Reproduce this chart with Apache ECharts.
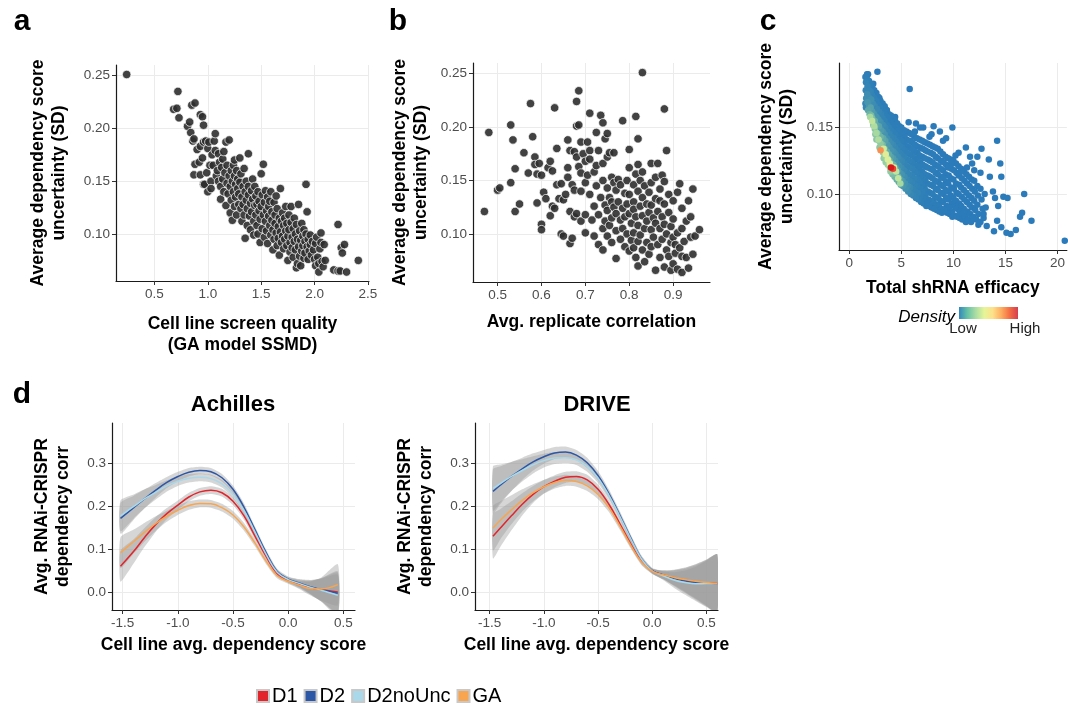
<!DOCTYPE html>
<html><head><meta charset="utf-8">
<script src="https://cdn.jsdelivr.net/npm/echarts@6/dist/echarts.min.js"></script>
<style>html,body{margin:0;padding:0;background:#fff}#c{width:1068px;height:706px}</style>
</head><body><div id="c"></div>
<script>
// ---------- Panel a: [GA model SSMD, avg dependency score SD]
const panelA = [[0.24,0.251],[0.68,0.218],[0.71,0.219],[0.72,0.235],[0.73,0.210],[0.81,0.202],[0.83,0.206],[0.84,0.196],[0.85,0.222],[0.86,0.188],[0.88,0.224],[0.87,0.190],[0.88,0.166],[0.87,0.156],[0.90,0.180],[0.92,0.168],[0.93,0.213],[0.93,0.183],[0.93,0.156],[0.95,0.211],[0.95,0.172],[0.96,0.203],[0.96,0.187],[0.96,0.147],[0.97,0.147],[0.98,0.188],[0.99,0.158],[1.00,0.140],[1.00,0.181],[1.01,0.187],[1.02,0.165],[1.03,0.150],[1.03,0.143],[1.04,0.175],[1.05,0.165],[1.06,0.188],[1.07,0.195],[1.07,0.179],[1.08,0.155],[1.09,0.160],[1.10,0.176],[1.10,0.150],[1.11,0.168],[1.12,0.133],[1.12,0.145],[1.13,0.163],[1.14,0.152],[1.14,0.171],[1.15,0.178],[1.15,0.140],[1.16,0.158],[1.17,0.187],[1.17,0.127],[1.18,0.148],[1.18,0.165],[1.19,0.138],[1.20,0.189],[1.20,0.155],[1.21,0.120],[1.21,0.145],[1.22,0.160],[1.22,0.132],[1.23,0.150],[1.23,0.113],[1.24,0.140],[1.24,0.165],[1.25,0.126],[1.25,0.155],[1.25,0.170],[1.26,0.147],[1.26,0.135],[1.27,0.160],[1.27,0.118],[1.28,0.143],[1.28,0.152],[1.29,0.128],[1.29,0.138],[1.30,0.172],[1.30,0.149],[1.31,0.124],[1.31,0.157],[1.32,0.135],[1.32,0.112],[1.33,0.145],[1.33,0.128],[1.34,0.162],[1.34,0.118],[1.35,0.140],[1.35,0.096],[1.36,0.132],[1.36,0.150],[1.37,0.108],[1.37,0.124],[1.38,0.176],[1.38,0.145],[1.38,0.137],[1.39,0.117],[1.40,0.129],[1.40,0.104],[1.41,0.141],[1.41,0.121],[1.42,0.152],[1.42,0.133],[1.43,0.112],[1.43,0.099],[1.44,0.127],[1.44,0.145],[1.45,0.136],[1.45,0.118],[1.46,0.108],[1.46,0.128],[1.47,0.140],[1.47,0.100],[1.48,0.122],[1.48,0.131],[1.49,0.114],[1.49,0.092],[1.50,0.157],[1.50,0.126],[1.51,0.105],[1.51,0.137],[1.52,0.166],[1.52,0.118],[1.53,0.097],[1.53,0.130],[1.54,0.112],[1.54,0.141],[1.55,0.122],[1.55,0.103],[1.56,0.135],[1.56,0.091],[1.57,0.117],[1.57,0.126],[1.58,0.108],[1.58,0.131],[1.59,0.099],[1.59,0.140],[1.60,0.113],[1.60,0.121],[1.61,0.085],[1.61,0.104],[1.62,0.130],[1.62,0.095],[1.63,0.118],[1.63,0.110],[1.64,0.101],[1.64,0.136],[1.65,0.089],[1.65,0.124],[1.66,0.107],[1.66,0.096],[1.67,0.115],[1.67,0.080],[1.68,0.143],[1.68,0.102],[1.69,0.112],[1.69,0.092],[1.70,0.120],[1.70,0.098],[1.71,0.086],[1.71,0.108],[1.72,0.115],[1.72,0.095],[1.73,0.103],[1.73,0.126],[1.74,0.089],[1.74,0.110],[1.75,0.098],[1.75,0.075],[1.76,0.118],[1.76,0.104],[1.77,0.092],[1.77,0.083],[1.78,0.111],[1.78,0.126],[1.79,0.097],[1.79,0.087],[1.80,0.105],[1.80,0.078],[1.81,0.115],[1.81,0.093],[1.82,0.100],[1.82,0.085],[1.83,0.068],[1.83,0.109],[1.84,0.072],[1.84,0.095],[1.85,0.128],[1.85,0.088],[1.86,0.103],[1.86,0.079],[1.87,0.094],[1.87,0.070],[1.88,0.110],[1.88,0.084],[1.89,0.098],[1.89,0.089],[1.90,0.077],[1.90,0.104],[1.91,0.093],[1.91,0.082],[1.92,0.147],[1.92,0.100],[1.93,0.088],[1.93,0.121],[1.94,0.095],[1.94,0.076],[1.95,0.084],[1.96,0.099],[1.96,0.090],[1.97,0.080],[1.98,0.093],[1.99,0.085],[2.00,0.076],[2.01,0.070],[2.01,0.091],[2.02,0.097],[2.03,0.078],[2.04,0.072],[2.04,0.064],[2.05,0.086],[2.06,0.101],[2.06,0.092],[2.07,0.074],[2.08,0.069],[2.09,0.090],[2.10,0.075],[2.18,0.066],[2.22,0.065],[2.22,0.109],[2.24,0.065],[2.25,0.087],[2.26,0.082],[2.28,0.090],[2.30,0.064],[2.41,0.075]];

// ---------- Panel b: [avg replicate correlation, avg dependency score SD]
const panelB = [[0.47,0.121],[0.48,0.195],[0.50,0.141],[0.505,0.143],[0.53,0.148],[0.53,0.202],[0.535,0.188],[0.54,0.121],[0.54,0.161],[0.55,0.128],[0.56,0.176],[0.575,0.222],[0.57,0.157],[0.58,0.191],[0.585,0.172],[0.585,0.165],[0.59,0.129],[0.59,0.156],[0.595,0.166],[0.60,0.155],[0.60,0.109],[0.60,0.104],[0.605,0.139],[0.61,0.133],[0.615,0.162],[0.62,0.168],[0.62,0.117],[0.625,0.159],[0.625,0.126],[0.63,0.124],[0.63,0.218],[0.635,0.180],[0.635,0.146],[0.64,0.133],[0.645,0.147],[0.645,0.100],[0.65,0.098],[0.65,0.132],[0.655,0.137],[0.66,0.162],[0.66,0.153],[0.66,0.188],[0.665,0.178],[0.665,0.121],[0.665,0.091],[0.67,0.096],[0.67,0.146],[0.675,0.177],[0.675,0.141],[0.675,0.116],[0.68,0.224],[0.68,0.201],[0.68,0.172],[0.68,0.119],[0.685,0.234],[0.685,0.202],[0.685,0.163],[0.69,0.186],[0.69,0.157],[0.69,0.140],[0.69,0.112],[0.695,0.175],[0.70,0.168],[0.70,0.148],[0.70,0.118],[0.70,0.101],[0.705,0.186],[0.705,0.155],[0.71,0.213],[0.71,0.178],[0.71,0.170],[0.71,0.137],[0.715,0.113],[0.72,0.158],[0.72,0.126],[0.72,0.098],[0.725,0.195],[0.725,0.164],[0.725,0.145],[0.73,0.118],[0.73,0.090],[0.73,0.178],[0.735,0.211],[0.735,0.134],[0.74,0.204],[0.74,0.166],[0.74,0.150],[0.74,0.105],[0.74,0.085],[0.745,0.189],[0.745,0.127],[0.745,0.112],[0.75,0.194],[0.75,0.172],[0.75,0.143],[0.75,0.122],[0.75,0.098],[0.755,0.176],[0.755,0.134],[0.755,0.108],[0.76,0.153],[0.76,0.130],[0.76,0.115],[0.76,0.092],[0.765,0.148],[0.765,0.125],[0.765,0.176],[0.77,0.077],[0.77,0.141],[0.77,0.119],[0.77,0.103],[0.775,0.151],[0.775,0.130],[0.78,0.146],[0.78,0.113],[0.78,0.095],[0.785,0.206],[0.785,0.124],[0.785,0.105],[0.79,0.138],[0.79,0.116],[0.79,0.088],[0.795,0.150],[0.795,0.128],[0.795,0.100],[0.80,0.162],[0.80,0.179],[0.80,0.137],[0.80,0.119],[0.80,0.084],[0.805,0.110],[0.805,0.094],[0.81,0.146],[0.81,0.130],[0.81,0.123],[0.81,0.101],[0.81,0.087],[0.815,0.210],[0.815,0.156],[0.815,0.116],[0.815,0.078],[0.82,0.189],[0.82,0.165],[0.82,0.140],[0.82,0.108],[0.82,0.093],[0.82,0.070],[0.825,0.150],[0.825,0.126],[0.825,0.099],[0.83,0.251],[0.83,0.158],[0.83,0.134],[0.83,0.117],[0.83,0.085],[0.835,0.145],[0.835,0.105],[0.835,0.074],[0.84,0.128],[0.84,0.112],[0.84,0.092],[0.845,0.139],[0.845,0.120],[0.845,0.081],[0.85,0.166],[0.85,0.148],[0.85,0.127],[0.85,0.104],[0.85,0.088],[0.855,0.115],[0.855,0.097],[0.86,0.153],[0.86,0.133],[0.86,0.110],[0.86,0.066],[0.865,0.166],[0.865,0.121],[0.865,0.090],[0.87,0.142],[0.87,0.131],[0.87,0.105],[0.87,0.078],[0.875,0.155],[0.875,0.116],[0.875,0.095],[0.88,0.217],[0.88,0.149],[0.88,0.128],[0.88,0.109],[0.88,0.069],[0.885,0.178],[0.885,0.100],[0.885,0.085],[0.89,0.137],[0.89,0.120],[0.89,0.079],[0.895,0.107],[0.895,0.092],[0.895,0.066],[0.90,0.131],[0.90,0.114],[0.90,0.097],[0.90,0.072],[0.905,0.082],[0.905,0.090],[0.91,0.139],[0.91,0.101],[0.91,0.067],[0.915,0.147],[0.915,0.087],[0.92,0.124],[0.92,0.105],[0.92,0.079],[0.92,0.064],[0.925,0.093],[0.93,0.112],[0.93,0.078],[0.935,0.131],[0.935,0.068],[0.94,0.116],[0.94,0.097],[0.945,0.081],[0.945,0.142],[0.95,0.098],[0.96,0.104]];

// ---------- Panel c: [total shRNA efficacy, avg dependency score SD, relative density]
const panelC = [
[1.55,0.188,0.1],[1.6,0.184,0.15],[1.58,0.178,0.2],[1.62,0.172,0.25],[1.55,0.168,0.2],[1.6,0.165,0.2],[1.7,0.19,0.05],
[1.75,0.186,0.12],[1.75,0.181,0.18],[1.72,0.175,0.25],[1.75,0.169,0.3],[1.8,0.163,0.35],
[1.9,0.185,0.1],[1.9,0.178,0.2],[1.95,0.172,0.25],[1.9,0.166,0.3],[1.95,0.16,0.4],
[2.05,0.183,0.1],[2.05,0.177,0.18],[2.1,0.171,0.26],[2.05,0.165,0.34],[2.1,0.159,0.42],
[2.2,0.18,0.08],[2.2,0.174,0.15],[2.25,0.168,0.24],[2.2,0.162,0.32],[2.2,0.157,0.42],[2.3,0.152,0.45],
[2.4,0.178,0.06],[2.4,0.172,0.14],[2.45,0.166,0.22],[2.4,0.16,0.3],[2.45,0.155,0.38],[2.45,0.149,0.45],[2.5,0.145,0.45],
[2.6,0.176,0.05],[2.6,0.17,0.13],[2.65,0.164,0.22],[2.6,0.158,0.3],[2.6,0.152,0.36],[2.65,0.146,0.44],[2.6,0.141,0.45],
[2.8,0.173,0.05],[2.8,0.167,0.12],[2.85,0.162,0.2],[2.8,0.156,0.28],[2.85,0.151,0.34],[2.8,0.145,0.4],[2.85,0.14,0.46],[2.9,0.135,0.45],
[3.0,0.17,0.05],[3.0,0.165,0.11],[3.05,0.16,0.18],[3.0,0.154,0.26],[3.05,0.148,0.32],[3.0,0.143,0.4],[3.0,0.138,0.46],[3.1,0.133,0.46],
[3.2,0.168,0.05],[3.25,0.163,0.1],[3.2,0.157,0.17],[3.25,0.152,0.24],[3.2,0.147,0.3],[3.25,0.142,0.36],[3.2,0.137,0.42],[3.25,0.131,0.47],[3.3,0.127,0.46],
[3.4,0.166,0.05],[3.45,0.16,0.09],[3.4,0.155,0.16],[3.45,0.15,0.22],[3.4,0.145,0.28],[3.45,0.14,0.34],[3.4,0.134,0.4],[3.45,0.128,0.48],[3.5,0.124,0.47],
[3.6,0.163,0.05],[3.65,0.158,0.09],[3.6,0.152,0.15],[3.65,0.147,0.21],[3.6,0.142,0.27],[3.65,0.137,0.32],[3.6,0.132,0.38],[3.65,0.127,0.45],[3.7,0.122,0.48],
[3.8,0.16,0.05],[3.85,0.155,0.08],[3.8,0.15,0.14],[3.85,0.145,0.2],[3.8,0.14,0.25],[3.85,0.135,0.3],[3.8,0.13,0.36],[3.85,0.125,0.43],[3.9,0.12,0.5],[3.95,0.117,0.46],
[4.0,0.159,0.05],[4.05,0.153,0.08],[4.0,0.148,0.13],[4.05,0.143,0.19],[4.0,0.138,0.24],[4.05,0.133,0.29],[4.0,0.128,0.34],[4.05,0.123,0.4],[4.1,0.118,0.46],[4.15,0.115,0.42],
[4.2,0.157,0.05],[4.25,0.152,0.08],[4.2,0.147,0.12],[4.25,0.142,0.18],[4.2,0.137,0.22],[4.25,0.132,0.27],[4.2,0.127,0.32],[4.25,0.122,0.38],[4.3,0.117,0.44],[4.35,0.113,0.4],
[4.4,0.155,0.05],[4.45,0.15,0.07],[4.4,0.145,0.11],[4.45,0.14,0.16],[4.4,0.135,0.21],[4.45,0.13,0.25],[4.4,0.125,0.3],[4.45,0.12,0.35],[4.5,0.115,0.4],[4.55,0.111,0.38],
[4.6,0.153,0.05],[4.65,0.148,0.07],[4.6,0.143,0.1],[4.65,0.138,0.15],[4.6,0.133,0.2],[4.65,0.128,0.24],[4.6,0.123,0.28],[4.65,0.118,0.33],[4.7,0.113,0.38],[4.75,0.109,0.36],
[4.8,0.151,0.05],[4.85,0.146,0.06],[4.8,0.141,0.1],[4.85,0.136,0.14],[4.8,0.131,0.18],[4.85,0.126,0.22],[4.8,0.121,0.26],[4.85,0.116,0.3],[4.9,0.111,0.34],[4.95,0.107,0.33],
[5.0,0.15,0.05],[5.05,0.145,0.06],[5.0,0.14,0.09],[5.05,0.135,0.13],[5.0,0.13,0.17],[5.05,0.125,0.21],[5.0,0.12,0.24],[5.05,0.115,0.28],[5.1,0.11,0.31],[5.15,0.106,0.3],
[5.25,0.148,0.04],[5.3,0.143,0.05],[5.25,0.138,0.08],[5.3,0.133,0.12],[5.25,0.128,0.15],[5.3,0.123,0.18],[5.25,0.118,0.22],[5.3,0.113,0.25],[5.35,0.108,0.28],[5.4,0.104,0.27],
[5.5,0.147,0.03],[5.5,0.141,0.05],[5.55,0.136,0.08],[5.5,0.131,0.11],[5.55,0.126,0.14],[5.5,0.121,0.17],[5.55,0.116,0.2],[5.5,0.111,0.22],[5.6,0.106,0.25],[5.65,0.102,0.24],
[5.75,0.146,0.03],[5.8,0.14,0.05],[5.75,0.135,0.07],[5.8,0.13,0.1],[5.75,0.125,0.13],[5.8,0.12,0.15],[5.75,0.115,0.18],[5.8,0.11,0.2],[5.85,0.105,0.22],[5.9,0.1,0.21],
[6.0,0.145,0.03],[6.05,0.139,0.04],[6.0,0.134,0.07],[6.05,0.129,0.09],[6.0,0.124,0.12],[6.05,0.119,0.14],[6.0,0.114,0.16],[6.05,0.109,0.18],[6.1,0.104,0.19],[6.15,0.099,0.18],
[6.25,0.143,0.02],[6.3,0.137,0.04],[6.25,0.132,0.06],[6.3,0.127,0.08],[6.25,0.122,0.1],[6.3,0.117,0.13],[6.25,0.112,0.15],[6.3,0.107,0.16],[6.35,0.102,0.17],[6.4,0.097,0.15],
[6.5,0.142,0.02],[6.5,0.136,0.03],[6.55,0.131,0.05],[6.5,0.126,0.07],[6.55,0.121,0.09],[6.5,0.116,0.11],[6.55,0.111,0.13],[6.5,0.106,0.14],[6.6,0.101,0.15],[6.65,0.096,0.13],
[6.75,0.141,0.02],[6.8,0.135,0.03],[6.75,0.129,0.05],[6.8,0.124,0.06],[6.75,0.119,0.08],[6.8,0.114,0.1],[6.75,0.109,0.11],[6.8,0.104,0.12],[6.85,0.099,0.12],[6.9,0.094,0.1],
[7.0,0.14,0.02],[7.05,0.134,0.03],[7.0,0.128,0.04],[7.05,0.122,0.06],[7.0,0.117,0.07],[7.05,0.112,0.09],[7.0,0.107,0.1],[7.05,0.102,0.11],[7.1,0.097,0.1],[7.15,0.093,0.08],
[7.25,0.139,0.01],[7.3,0.133,0.02],[7.25,0.127,0.04],[7.3,0.121,0.05],[7.25,0.115,0.07],[7.3,0.11,0.08],[7.25,0.104,0.09],[7.3,0.099,0.09],[7.35,0.094,0.08],[7.4,0.091,0.06],
[7.5,0.138,0.01],[7.5,0.132,0.02],[7.55,0.126,0.03],[7.5,0.12,0.05],[7.55,0.114,0.06],[7.5,0.108,0.07],[7.55,0.102,0.08],[7.6,0.096,0.08],[7.65,0.091,0.06],
[7.75,0.137,0.01],[7.8,0.131,0.02],[7.75,0.125,0.03],[7.8,0.119,0.04],[7.75,0.113,0.05],[7.8,0.107,0.06],[7.75,0.101,0.07],[7.85,0.095,0.07],[7.9,0.09,0.05],
[8.0,0.136,0.01],[8.05,0.13,0.02],[8.0,0.124,0.03],[8.05,0.118,0.04],[8.0,0.112,0.05],[8.05,0.106,0.05],[8.0,0.1,0.06],[8.1,0.094,0.06],[8.15,0.089,0.05],
[8.25,0.135,0],[8.3,0.128,0.01],[8.25,0.122,0.02],[8.3,0.116,0.03],[8.25,0.11,0.04],[8.3,0.104,0.04],[8.25,0.098,0.05],[8.35,0.092,0.05],[8.4,0.088,0.04],
[8.5,0.134,0],[8.5,0.127,0.01],[8.55,0.121,0.02],[8.5,0.115,0.03],[8.55,0.109,0.03],[8.5,0.103,0.04],[8.55,0.097,0.04],[8.6,0.091,0.04],[8.65,0.087,0.03],
[8.75,0.132,0],[8.8,0.125,0.01],[8.75,0.119,0.02],[8.8,0.113,0.02],[8.75,0.107,0.03],[8.8,0.101,0.03],[8.75,0.095,0.03],[8.85,0.089,0.03],[8.9,0.086,0.02],
[9.0,0.13,0],[9.05,0.124,0.01],[9.0,0.118,0.01],[9.05,0.112,0.02],[9.0,0.106,0.02],[9.05,0.1,0.02],[9.0,0.094,0.02],[9.1,0.088,0.02],
[9.25,0.128,0],[9.3,0.122,0],[9.25,0.115,0.01],[9.3,0.109,0.01],[9.25,0.103,0.02],[9.3,0.097,0.02],[9.35,0.091,0.01],[9.4,0.086,0.01],
[9.5,0.127,0],[9.5,0.12,0],[9.55,0.114,0.01],[9.5,0.108,0.01],[9.55,0.102,0.01],[9.5,0.096,0.01],[9.6,0.09,0.01],[9.65,0.085,0],
[9.75,0.126,0],[9.8,0.119,0],[9.75,0.112,0],[9.8,0.105,0.01],[9.75,0.099,0.01],[9.85,0.093,0],[9.85,0.087,0],[9.9,0.083,0],
[10.0,0.125,0],[10.05,0.118,0],[10.0,0.111,0],[10.05,0.104,0],[10.0,0.097,0],[10.1,0.091,0],[10.1,0.084,0],
[10.25,0.123,0],[10.3,0.116,0],[10.25,0.108,0],[10.3,0.101,0],[10.25,0.095,0],[10.35,0.089,0],[10.35,0.083,0],
[10.5,0.121,0],[10.5,0.114,0],[10.55,0.107,0],[10.5,0.1,0],[10.55,0.093,0],[10.6,0.087,0],[10.6,0.082,0],
[10.75,0.119,0],[10.8,0.112,0],[10.75,0.105,0],[10.8,0.098,0],[10.75,0.091,0],[10.85,0.085,0],[10.85,0.081,0],
[11.0,0.117,0],[11.05,0.11,0],[11.0,0.103,0],[11.05,0.096,0],[11.0,0.089,0],[11.1,0.083,0],[11.2,0.079,0],
[11.25,0.115,0],[11.3,0.108,0],[11.25,0.101,0],[11.3,0.094,0],[11.35,0.087,0],[11.4,0.081,0],
[11.5,0.113,0],[11.55,0.106,0],[11.5,0.099,0],[11.55,0.092,0],[11.6,0.085,0],[11.7,0.079,0],
[11.75,0.111,0],[11.8,0.104,0],[11.75,0.097,0],[11.8,0.09,0],[11.9,0.083,0],
[12.0,0.11,0],[12.05,0.102,0],[12.0,0.095,0],[12.1,0.088,0],[12.2,0.081,0],[12.4,0.077,0],
[12.3,0.106,0],[12.35,0.099,0],[12.3,0.092,0],[12.4,0.085,0],[12.6,0.079,0],
[12.6,0.104,0],[12.7,0.096,0],[12.8,0.089,0],[12.9,0.082,0],[13.2,0.076,0],[13.0,0.1,0],
[2.7,0.192,0],[5.8,0.179,0],[5.7,0.154,0],[7.1,0.15,0],[8.1,0.151,0],[8.7,0.147,0],[9.3,0.142,0],[9.9,0.15,0],[11.2,0.135,0],[12.7,0.134,0],[14.2,0.14,0],[12.3,0.128,0],[13.4,0.126,0],[10.5,0.131,0],[11.8,0.123,0],[14.5,0.123,0],[14.6,0.113,0],[13.5,0.113,0],[12.6,0.116,0],[13.8,0.102,0],[14.0,0.097,0],[14.3,0.091,0],[14.8,0.098,0],[15.2,0.097,0],[16.8,0.1,0],[16.6,0.086,0],[16.4,0.083,0],[17.5,0.08,0],[14.2,0.08,0],[13.9,0.072,0],[14.6,0.075,0],[15.1,0.071,0],[15.5,0.07,0],[16.0,0.073,0],[20.7,0.065,0],[13.1,0.09,0],[12.9,0.085,0],[11.3,0.12,0],[10.6,0.116,0],[9.8,0.123,0],[9.0,0.14,0],[7.9,0.145,0],[6.8,0.15,0],[6.3,0.147,0],[6.4,0.153,0],[7.7,0.143,0],[4.4,0.158,0],[3.6,0.163,0],[2.9,0.172,0],[2.3,0.183,0],[1.8,0.19,0],[10.2,0.129,0],[12.0,0.118,0],[11.6,0.128,0],
[2.0,0.158,0.5],[2.2,0.155,0.55],[2.4,0.151,0.52],[2.6,0.146,0.5],[2.8,0.141,0.52],[3.3,0.134,0.58],[3.5,0.13,0.62],[3.7,0.126,0.6],[3.9,0.123,0.62],[4.3,0.12,0.6],[4.5,0.117,0.55],[4.7,0.112,0.55],[4.9,0.108,0.5],
[3.0,0.133,0.85],[4.0,0.12,1.0],[4.2,0.119,0.95]
];

// ---------- Panel d: smoothed fits (Achilles)
const achX       = [-1.52,-1.4,-1.3,-1.2,-1.1,-1.0,-0.9,-0.8,-0.7,-0.6,-0.5,-0.4,-0.3,-0.2,-0.1,0.0,0.1,0.2,0.3,0.45];
const achD1      = [0.060,0.095,0.128,0.158,0.183,0.203,0.222,0.234,0.238,0.232,0.212,0.178,0.130,0.083,0.043,0.027,0.018,0.010,0.005,0.000];
const achD2      = [0.172,0.197,0.218,0.238,0.256,0.270,0.280,0.284,0.281,0.267,0.240,0.198,0.145,0.092,0.048,0.030,0.021,0.012,0.005,-0.003];
const achD2noUnc = [0.178,0.200,0.218,0.233,0.248,0.259,0.266,0.268,0.265,0.253,0.228,0.190,0.140,0.088,0.046,0.029,0.020,0.011,0.004,-0.008];
const achGA      = [0.092,0.118,0.140,0.160,0.177,0.191,0.202,0.207,0.206,0.197,0.180,0.152,0.114,0.072,0.038,0.025,0.016,0.008,0.007,0.017];
const achSE      = [0.036,0.028,0.022,0.017,0.013,0.011,0.010,0.009,0.009,0.009,0.009,0.009,0.008,0.007,0.006,0.006,0.009,0.016,0.027,0.048];
// ---------- Panel d: smoothed fits (DRIVE)
const drvX       = [-1.47,-1.4,-1.3,-1.2,-1.1,-1.0,-0.9,-0.8,-0.7,-0.6,-0.5,-0.4,-0.3,-0.2,-0.1,0.0,0.1,0.2,0.3,0.4,0.5,0.6];
const drvD1      = [0.130,0.150,0.178,0.205,0.228,0.246,0.259,0.268,0.270,0.262,0.240,0.205,0.160,0.113,0.072,0.049,0.040,0.033,0.028,0.024,0.021,0.020];
const drvD2      = [0.235,0.250,0.270,0.288,0.304,0.316,0.325,0.327,0.320,0.302,0.272,0.230,0.180,0.127,0.078,0.050,0.040,0.032,0.026,0.022,0.020,0.020];
const drvD2noUnc = [0.242,0.254,0.270,0.284,0.297,0.307,0.313,0.314,0.309,0.293,0.266,0.226,0.177,0.125,0.077,0.049,0.038,0.028,0.022,0.019,0.019,0.020];
const drvGA      = [0.149,0.168,0.192,0.214,0.232,0.246,0.256,0.261,0.258,0.248,0.228,0.197,0.155,0.110,0.070,0.048,0.040,0.034,0.029,0.025,0.022,0.020];
const drvSE      = [0.052,0.044,0.034,0.026,0.020,0.016,0.014,0.013,0.012,0.012,0.011,0.010,0.009,0.008,0.007,0.006,0.010,0.018,0.028,0.040,0.054,0.068];

const methodNames  = ['D1','D2','D2noUnc','GA'];
const methodColors = ['#e3242b','#2c56a6','#a8d8ea','#f9a54f'];

// tick values
const ticksAx = [0.5,1.0,1.5,2.0,2.5];
const ticksAy = [0.10,0.15,0.20,0.25];
const ticksBx = [0.5,0.6,0.7,0.8,0.9];
const ticksBy = [0.10,0.15,0.20,0.25];
const ticksCx = [0,5,10,15,20];
const ticksCy = [0.10,0.15];
const ticksDx = [-1.5,-1.0,-0.5,0.0,0.5];
const ticksDy = [0.0,0.1,0.2,0.3];
const densityColors = ['#2b7bba','#2e7fb8','#3586b4','#4896ae','#6fb5a6','#a6d9a0','#d9ef9b','#fee08b','#fdae61','#f46d43','#d7191c'];
const legendColors  = ['#3288bd','#66c2a5','#abdda4','#e6f598','#fee08b','#fdae61','#f46d43','#d53e4f'];

// ---------------------------------------------------------------
const FONT = '"Liberation Sans", Arial, Helvetica, sans-serif';
const chart = echarts.init(document.getElementById('c'));

function axis(gi, min, max, ticks, dec, name, gap, isY) {
  return {
    type: 'value', gridIndex: gi, min: min, max: max, scale: true,
    axisLine: { show: true, onZero: false, lineStyle: { color: '#1a1a1a', width: 1.2 } },
    axisTick: { show: true, length: 4, customValues: ticks, lineStyle: { color: '#333', width: 1 } },
    axisLabel: { customValues: ticks, color: '#4d4d4d', fontSize: 13.5, fontFamily: FONT, margin: 6,
                 formatter: v => Number(v).toFixed(dec) },
    splitLine: { show: true, lineStyle: { color: '#ebebeb', width: 1 } },
    name: name, nameLocation: 'middle', nameGap: gap, nameRotate: isY ? 90 : 0,
    nameTextStyle: { fontSize: 17.5, fontWeight: 'bold', color: '#000', fontFamily: FONT, lineHeight: 21 }
  };
}

const grids = [
  { left: 116, top: 65, width: 253, height: 216 },
  { left: 473, top: 63, width: 237, height: 219 },
  { left: 839, top: 63, width: 228, height: 187 },
  { left: 112, top: 423, width: 243, height: 187 },
  { left: 475, top: 423, width: 243, height: 187 }
];

const xAxes = [
  axis(0, 0.14, 2.51, ticksAx, 1, 'Cell line screen quality\n(GA model SSMD)', 33, false),
  axis(1, 0.444, 0.984, ticksBx, 1, 'Avg. replicate correlation', 30, false),
  axis(2, -0.99, 20.9, ticksCx, 0, 'Total shRNA efficacy', 28, false),
  axis(3, -1.597, 0.606, ticksDx, 1, 'Cell line avg. dependency score', 25, false),
  axis(4, -1.636, 0.607, ticksDx, 1, 'Cell line avg. dependency score', 25, false)
];
const yAxes = [
  axis(0, 0.0555, 0.26, ticksAy, 2, 'Average dependency score\nuncertainty (SD)', 46, true),
  axis(1, 0.055, 0.26, ticksBy, 2, 'Average dependency score\nuncertainty (SD)', 41, true),
  axis(2, 0.058, 0.1985, ticksCy, 2, 'Average dependency score\nuncertainty (SD)', 41, true),
  axis(3, -0.0422, 0.395, ticksDy, 1, 'Avg. RNAi-CRISPR\ndependency corr', 38, true),
  axis(4, -0.0422, 0.395, ticksDy, 1, 'Avg. RNAi-CRISPR\ndependency corr', 38, true)
];

const series = [
  { type: 'scatter', xAxisIndex: 0, yAxisIndex: 0, data: panelA, symbolSize: 8.5,
    itemStyle: { color: '#2e2e2e', borderColor: '#ffffff', borderWidth: 0.8, opacity: 0.9 } },
  { type: 'scatter', xAxisIndex: 1, yAxisIndex: 1, data: panelB, symbolSize: 8.5,
    itemStyle: { color: '#2e2e2e', borderColor: '#ffffff', borderWidth: 0.8, opacity: 0.9 } },
  { type: 'scatter', xAxisIndex: 2, yAxisIndex: 2, symbolSize: 6.5,
    data: panelC.slice().sort((p, q) => p[2] - q[2]), itemStyle: { opacity: 1 } }
];

function addFits(ai, xs, sets, se) {
  sets.forEach((ys, i) => {
    series.push({
      type: 'custom', name: methodNames[i] + ' band', xAxisIndex: ai, yAxisIndex: ai, clip: true, silent: true,
      data: [[xs[0], ys[0]]],
      renderItem: (params, api) => {
        const up = xs.map((x, k) => api.coord([x, ys[k] + se[k]]));
        const lo = xs.map((x, k) => api.coord([x, ys[k] - se[k]])).reverse();
        return { type: 'polygon', shape: { points: up.concat(lo), smooth: 0.2 },
                 style: { fill: 'rgba(153,153,153,0.4)' } };
      }
    });
    series.push({
      type: 'line', name: methodNames[i], xAxisIndex: ai, yAxisIndex: ai, smooth: 0.4,
      showSymbol: false, symbol: 'none', data: xs.map((x, k) => [x, ys[k]]),
      lineStyle: { color: methodColors[i], width: 1.5 }, itemStyle: { color: methodColors[i] }
    });
  });
}
addFits(3, achX, [achD1, achD2, achD2noUnc, achGA], achSE);
addFits(4, drvX, [drvD1, drvD2, drvD2noUnc, drvGA], drvSE);

function txt(x, y, s, size, extra) {
  return Object.assign({ type: 'text', x: x, y: y, silent: true,
    style: Object.assign({ text: s, fontSize: size, fontFamily: FONT, fontWeight: 'bold', fill: '#000',
                           align: 'center', verticalAlign: 'middle' }, extra || {}) });
}

chart.setOption({
  animation: false,
  backgroundColor: '#fff',
  grid: grids, xAxis: xAxes, yAxis: yAxes, series: series,
  visualMap: [{ show: false, type: 'continuous', seriesIndex: 2, dimension: 2, min: 0, max: 1,
                inRange: { color: densityColors } }],
  legend: {
    left: 251, top: 681, data: methodNames, icon: 'rect', itemWidth: 12, itemHeight: 12, itemGap: 6,
    textStyle: { fontSize: 20, color: '#000', fontFamily: FONT, padding: [0, 0, 0, -2] },
    itemStyle: { borderColor: '#c8c8c8', borderWidth: 2 }, lineStyle: { width: 0 }, selectedMode: false
  },
  graphic: [
    txt(22, 22, 'a', 30), txt(398, 22, 'b', 30), txt(768, 22, 'c', 30), txt(22, 395, 'd', 30),
    txt(233, 405, 'Achilles', 22), txt(597, 405, 'DRIVE', 22),
    txt(955, 317, 'Density', 17, { fontWeight: 'normal', fontStyle: 'italic', align: 'right' }),
    { type: 'rect', shape: { x: 959, y: 307, width: 59, height: 12 }, silent: true,
      style: { fill: new echarts.graphic.LinearGradient(0, 0, 1, 0,
        legendColors.map((c, i, a) => ({ offset: i / (a.length - 1), color: c }))) } },
    txt(963, 329, 'Low', 15, { fontWeight: 'normal', fill: '#222' }),
    txt(1025, 329, 'High', 15, { fontWeight: 'normal', fill: '#222' })
  ]
});
</script></body></html>
